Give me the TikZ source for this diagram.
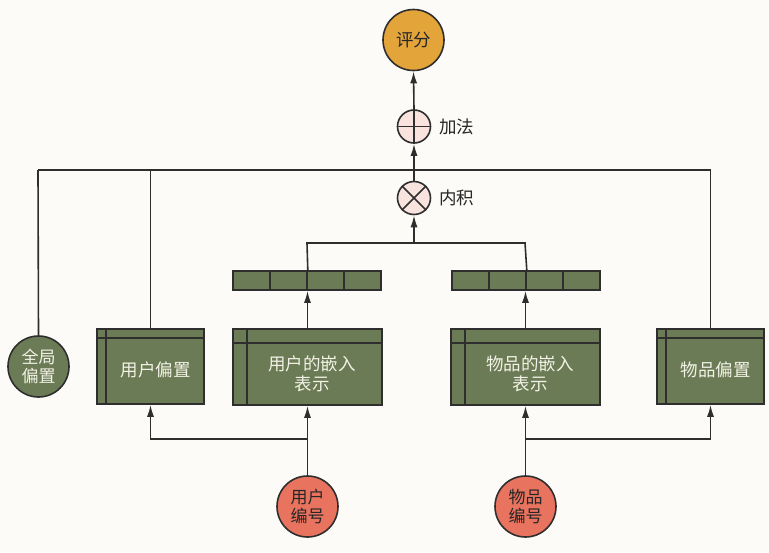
\documentclass[tikz,border=0pt]{standalone}
\usepackage{fontspec}
\setmainfont{Noto Sans CJK SC}
\usetikzlibrary{arrows.meta}
\definecolor{bgc}{HTML}{FCFBF7}
\definecolor{gfill}{HTML}{6B7B55}
\definecolor{ofill}{HTML}{E3A43A}
\definecolor{rfill}{HTML}{E8735F}
\definecolor{pfill}{HTML}{F9E3DF}
\definecolor{lnc}{HTML}{2E2E2E}
\definecolor{wtxt}{HTML}{F2F2E6}
\tikzset{
  lnk/.style={draw=lnc, line width=1.6pt},
  arr/.style={lnk, -{Latex[length=12pt,width=7pt]}},
  gbox/.style={draw=lnc, line width=1.6pt, fill=gfill, rectangle, inner sep=0pt},
  gcirc/.style={draw=lnc, line width=1.6pt, fill=gfill, circle, minimum size=61pt, inner sep=0pt, text=wtxt, font=\fontsize{17}{19.5}\selectfont, align=center},
  rcirc/.style={draw=lnc, line width=1.6pt, fill=rfill, circle, minimum size=61pt, inner sep=0pt, text=black!85, font=\fontsize{17}{19.5}\selectfont, align=center},
  ocirc/.style={draw=lnc, line width=1.6pt, fill=ofill, circle, minimum size=61pt, inner sep=0pt, text=black!85, font=\fontsize{17.5}{20}\selectfont},
  opcirc/.style={draw=lnc, line width=1.6pt, fill=pfill, circle, minimum size=33pt, inner sep=0pt},
  wlabel/.style={text=wtxt, font=\fontsize{17.5}{20}\selectfont, align=center, inner sep=0pt},
  blabel/.style={text=black!85, font=\fontsize{17.5}{20}\selectfont, inner sep=0pt, anchor=west},
  cell/.style={draw=lnc, line width=1.6pt, fill=gfill, rectangle, minimum width=37pt, minimum height=19pt, inner sep=0pt},
}
\begin{document}
\begin{tikzpicture}[x=1pt,y=-1pt]
\fill[bgc] (0,0) rectangle (769,552);
\useasboundingbox (0,0) rectangle (769,552);

% top part
\node[ocirc] (score) at (413.5,40) {评分};
\node[opcirc] (plus) at (414,126.5) {};
\draw[lnk] (plus.north) -- (plus.south) (plus.west) -- (plus.east);
\node[blabel] (plusl) at (439,126.5) {加法};
\node[opcirc] (times) at (414,198) {};
\draw[lnk] (times.north west) -- (times.south east) (times.north east) -- (times.south west);
\node[blabel] (timesl) at (439,198) {内积};

\coordinate (hl) at (38,170);
\coordinate (hr) at (711,170);
\draw[lnk] (hl) -- (hr);
\draw[arr] (plus.north) -- (score.south);
\draw[arr] (times.north) -- (plus.south);

% embedding bars
\foreach \i/\x in {1/251.5,2/288.5,3/325.5,4/362.5} {\node[cell] (ua\i) at (\x,280.5) {};}
\foreach \i/\x in {1/470.5,2/507.5,3/544.5,4/581.5} {\node[cell] (ia\i) at (\x,280.5) {};}
\coordinate (jl) at (307,243);
\coordinate (jr) at (525,243);
\draw[lnk] (ua2.north east) -- (jl) -- (jr) -- (ia2.north east);
\coordinate (jm) at (414,243);
\draw[arr] (jm) -- (times.south);

% boxes
\node[gbox, minimum width=107pt, minimum height=75pt] (ub) at (150.5,366.5) {};
\draw[lnk] ([yshift=-10pt]ub.north west) -- ([yshift=-10pt]ub.north east);
\draw[lnk] ([xshift=10pt]ub.north west) -- ([xshift=10pt]ub.south west);
\node[wlabel] (ubt) at (155.5,370) {用户偏置};

\node[gbox, minimum width=149pt, minimum height=76pt] (ue) at (307.5,367) {};
\draw[lnk] ([yshift=-15pt]ue.north west) -- ([yshift=-15pt]ue.north east);
\draw[lnk] ([xshift=15pt]ue.north west) -- ([xshift=15pt]ue.south west);
\node[wlabel] (uet) at (312,374) {用户的嵌入\\表示};

\node[gbox, minimum width=149pt, minimum height=76pt] (ie) at (525.5,367) {};
\draw[lnk] ([yshift=-15pt]ie.north west) -- ([yshift=-15pt]ie.north east);
\draw[lnk] ([xshift=15pt]ie.north west) -- ([xshift=15pt]ie.south west);
\node[wlabel] (iet) at (530,374) {物品的嵌入\\表示};

\node[gbox, minimum width=107pt, minimum height=75pt] (ib) at (710.5,366.5) {};
\draw[lnk] ([yshift=-10pt]ib.north west) -- ([yshift=-10pt]ib.north east);
\draw[lnk] ([xshift=10pt]ib.north west) -- ([xshift=10pt]ib.south west);
\node[wlabel] (ibt) at (715.5,370) {物品偏置};

\node[gcirc] (gb) at (38.5,366.5) {全局\\偏置};

% vertical lines to top horizontal
\draw[lnk] (gb.north) -- (hl);
\draw[lnk] (ub.north) -- (ub.north |- hl);
\draw[lnk] (ib.north) -- (ib.north |- hr);

% arrows from boxes to bars
\draw[arr] (ue.north) -- (ue.north |- ua2.south);
\draw[arr] (ie.north) -- (ie.north |- ia2.south);

% bottom inputs
\node[rcirc] (uid) at (307.5,506.5) {用户\\编号};
\node[rcirc] (iid) at (525.5,506.5) {物品\\编号};
\coordinate (bu) at (307.5,439);
\coordinate (bi) at (525.5,439);
\draw[arr] (uid.north) -- (ue.south);
\draw[arr] (iid.north) -- (ie.south);
\draw[arr] (bu) -- (ub.south |- bu) -- (ub.south);
\draw[arr] (bi) -- (ib.south |- bi) -- (ib.south);
\end{tikzpicture}
\end{document}
